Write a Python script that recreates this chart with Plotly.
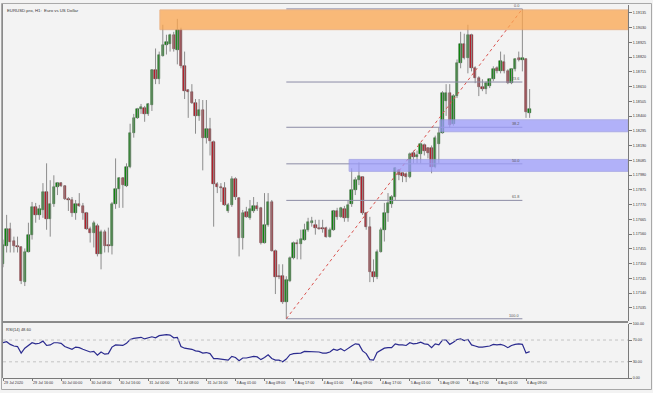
import plotly.graph_objects as go

W, H = 653, 393

# ---------------- data (EURUSD.pro H1) ----------------
opens = [1.17345,1.17479,1.17599,1.17514,1.17479,1.17465,1.17218,1.17436,1.17556,1.17754,
         1.17697,1.17732,1.17859,1.17669,1.17775,1.17895,1.17923,1.17902,1.17810,1.17803,
         1.17711,1.17775,1.17761,1.17711,1.17599,1.17570,1.17620,1.17422,1.17577,1.17486,
         1.17479,1.17775,1.17881,1.17958,1.17902,1.18036,1.18282,1.18388,1.18452,1.18459,
         1.18416,1.18480,1.18727,1.18663,1.18832,1.18910,1.18917,1.18980,1.18875,1.19016,
         1.18755,1.18586,1.18571,1.18494,1.18402,1.18445,1.18247,1.18311,1.18219,1.17916,
         1.17895,1.17888,1.17725,1.17768,1.17951,1.17817,1.17535,1.17718,1.17676,1.17725,
         1.17761,1.17747,1.17500,1.17627,1.17789,1.17443,1.17260,1.17260,1.17077,1.17225,
         1.17387,1.17500,1.17493,1.17521,1.17591,1.17641,1.17627,1.17606,1.17606,1.17606,
         1.17542,1.17591,1.17725,1.17683,1.17740,1.17676,1.17775,1.17873,1.17944,1.17965,
         1.17711,1.17613,1.17288,1.17253,1.17436,1.17591,1.17711,1.17775,1.17824,1.18014,
         1.17993,1.17986,1.17965,1.18141,1.18106,1.18134,1.18198,1.18177,1.18177,1.18036,
         1.18205,1.18282,1.18508,1.18564,1.18346,1.18543,1.18776,1.18917,1.18811,1.18980,
         1.18741,1.18670,1.18607,1.18593,1.18614,1.18663,1.18741,1.18719,1.18783,1.18719,
         1.18635,1.18734,1.18811,1.18797,1.18804,1.18423]
highs = [1.17521,1.17697,1.17641,1.17542,1.17542,1.17472,1.17458,1.17641,1.17789,1.17782,
         1.17768,1.17923,1.18064,1.17944,1.17979,1.17930,1.17930,1.17909,1.17824,1.17824,
         1.17803,1.17852,1.17782,1.17718,1.17613,1.17655,1.17634,1.17591,1.17591,1.17606,
         1.17789,1.18099,1.17965,1.17965,1.18064,1.18346,1.18416,1.18459,1.18487,1.18473,
         1.18494,1.18734,1.18882,1.18860,1.19051,1.18980,1.18987,1.19001,1.19093,1.19030,
         1.18860,1.18593,1.18628,1.18522,1.18522,1.18515,1.18515,1.18388,1.18226,1.17930,
         1.17923,1.17930,1.17782,1.17972,1.17965,1.17824,1.17732,1.17754,1.17803,1.17824,
         1.17789,1.17754,1.17852,1.17852,1.17803,1.17450,1.17345,1.17345,1.17260,1.17401,
         1.17507,1.17521,1.17591,1.17634,1.17676,1.17683,1.17662,1.17662,1.17662,1.17613,
         1.17606,1.17732,1.17747,1.17754,1.17761,1.17803,1.18029,1.17965,1.18071,1.17972,
         1.17718,1.17683,1.17380,1.17450,1.17606,1.17782,1.17852,1.17838,1.18036,1.18014,
         1.18000,1.18000,1.18141,1.18155,1.18155,1.18212,1.18205,1.18177,1.18191,1.18261,
         1.18318,1.18578,1.18628,1.18628,1.18557,1.18804,1.19001,1.18987,1.19051,1.18987,
         1.18755,1.18684,1.18663,1.18649,1.18670,1.18755,1.18755,1.18860,1.18839,1.18734,
         1.18741,1.18811,1.18860,1.19164,1.18811,1.18593]
lows = [1.17324,1.17429,1.17429,1.17429,1.17429,1.17204,1.17190,1.17429,1.17521,1.17641,
        1.17662,1.17676,1.17591,1.17542,1.17754,1.17838,1.17895,1.17803,1.17725,1.17683,
        1.17662,1.17754,1.17662,1.17591,1.17500,1.17465,1.17401,1.17309,1.17429,1.17429,
        1.17415,1.17740,1.17747,1.17747,1.17895,1.18029,1.18247,1.18381,1.18416,1.18360,
        1.18402,1.18437,1.18628,1.18628,1.18825,1.18839,1.18860,1.18860,1.18769,1.18741,
        1.18522,1.18388,1.18487,1.18275,1.18367,1.18014,1.18205,1.18120,1.17613,1.17852,
        1.17789,1.17761,1.17711,1.17754,1.17803,1.17401,1.17450,1.17676,1.17662,1.17711,
        1.17725,1.17486,1.17493,1.17613,1.17436,1.17133,1.17239,1.17063,1.16957,1.17218,
        1.17380,1.17380,1.17380,1.17514,1.17577,1.17613,1.17556,1.17591,1.17570,1.17535,
        1.17535,1.17584,1.17662,1.17676,1.17648,1.17648,1.17754,1.17838,1.17909,1.17697,
        1.17591,1.17218,1.17218,1.17239,1.17429,1.17507,1.17648,1.17747,1.17803,1.17944,
        1.17930,1.17930,1.17958,1.18064,1.18064,1.18064,1.18120,1.18099,1.17993,1.18029,
        1.18064,1.18275,1.18402,1.18318,1.18332,1.18529,1.18741,1.18804,1.18705,1.18719,
        1.18635,1.18543,1.18578,1.18557,1.18600,1.18649,1.18705,1.18705,1.18705,1.18628,
        1.18628,1.18719,1.18790,1.18719,1.18388,1.18388]
closes = [1.17486,1.17599,1.17507,1.17472,1.17465,1.17225,1.17436,1.17556,1.17754,1.17697,
          1.17740,1.17859,1.17669,1.17775,1.17895,1.17923,1.17902,1.17810,1.17803,1.17711,
          1.17775,1.17761,1.17711,1.17599,1.17570,1.17641,1.17422,1.17577,1.17472,1.17479,
          1.17775,1.17881,1.17958,1.17909,1.18036,1.18282,1.18388,1.18452,1.18466,1.18416,
          1.18487,1.18727,1.18663,1.18839,1.18910,1.18931,1.18980,1.18882,1.19016,1.18755,
          1.18578,1.18571,1.18494,1.18402,1.18445,1.18247,1.18311,1.18226,1.17916,1.17895,
          1.17888,1.17768,1.17768,1.17951,1.17824,1.17535,1.17711,1.17683,1.17740,1.17761,
          1.17740,1.17500,1.17627,1.17789,1.17443,1.17253,1.17253,1.17077,1.17232,1.17387,
          1.17500,1.17493,1.17528,1.17591,1.17648,1.17655,1.17606,1.17599,1.17599,1.17542,
          1.17591,1.17725,1.17683,1.17747,1.17676,1.17768,1.17873,1.17944,1.17972,1.17711,
          1.17613,1.17288,1.17253,1.17436,1.17591,1.17711,1.17782,1.17824,1.18029,1.17979,
          1.17972,1.17965,1.18134,1.18106,1.18127,1.18205,1.18155,1.18141,1.18036,1.18247,
          1.18282,1.18564,1.18564,1.18339,1.18543,1.18776,1.18917,1.18811,1.18980,1.18741,
          1.18670,1.18607,1.18593,1.18635,1.18663,1.18734,1.18719,1.18790,1.18719,1.18635,
          1.18734,1.18804,1.18797,1.18811,1.18430,1.18452]
rsi = [65,67,62,59,58,46,55,60,65,63,64,68,60,61,65,65,64,58,56,53,
       57,56,53,50,48,49,42,48,44,45,57,61,61,60,64,71,73,74,75,72,
       74,76,74,78,79,80,79,74,75,58,55,54,53,50,49,46,47,45,36,36,
       35,33,33,40,38,32,37,37,38,40,39,34,38,43,36,33,33,30,35,43,
       45,45,46,49,49,49,48,48,46,46,48,53,51,54,50,55,59,63,62,50,
       45,34,33,47,51,55,56,56,63,61,61,60,65,63,64,66,63,62,56,63,
       61,70,70,62,66,71,72,69,71,61,59,57,57,58,59,62,61,62,60,56,
       60,62,63,62,46,48.6]

tick_bars = [0, 8, 16, 24, 32, 40, 48, 56, 64, 72, 80, 88, 96, 104, 112, 120, 128, 136, 144]
tick_text = ["29 Jul 2020", "29 Jul 16:00", "30 Jul 00:00", "30 Jul 08:00", "30 Jul 16:00",
             "31 Jul 00:00", "31 Jul 08:00", "31 Jul 16:00", "3 Aug 01:00", "3 Aug 09:00",
             "3 Aug 17:00", "4 Aug 01:00", "4 Aug 09:00", "4 Aug 17:00", "5 Aug 01:00",
             "5 Aug 09:00", "5 Aug 17:00", "6 Aug 01:00", "6 Aug 09:00"]
price_ticks = [1.19135, 1.19030, 1.18925, 1.18820, 1.18715, 1.18610, 1.18505, 1.18400,
               1.18295, 1.18190, 1.18085, 1.17980, 1.17875, 1.17770, 1.17665, 1.17560,
               1.17455, 1.17350, 1.17245, 1.17140, 1.17035]
rsi_ticks = [0, 30, 70, 100]
rsi_tick_text = ["0.00", "30.00", "70.00", "100.00"]

fib_ratios = [0.0, 23.6, 38.2, 50.0, 61.8, 100.0]
fib_low_bar, fib_high_bar = 78, 143

zone_start = [43.2, 120.3, 95.3]
zone_top = [1.19157, 1.18374, 1.18092]
zone_bottom = [1.19016, 1.18289, 1.18007]
zone_fill = ["rgb(252,166,79)", "rgb(156,156,252)", "rgb(156,156,252)"]
zone_edge = ["rgb(232,160,100)", "rgb(150,150,225)", "rgb(150,150,225)"]

# ---------------- layout geometry ----------------
def px_x(p):
    return p / W

def px_y(p):
    return 1 - p / H

X_RANGE = [0, 172.08]
MAIN_RANGE = [1.16943, 1.19192]
FONT = "Liberation Sans"
bars = list(range(len(opens)))

UP_FILL, UP_EDGE = "#0c8c0c", "#1f4a1f"
DN_FILL, DN_EDGE = "#c0202c", "#4a1f22"

fig = go.Figure()

# wicks (high-low segments)
wx, wy = [], []
for i, (h, l) in enumerate(zip(highs, lows)):
    wx += [i, i, None]
    wy += [l, h, None]
fig.add_trace(go.Scatter(x=wx, y=wy, mode="lines", line=dict(color="#8c8c8c", width=1),
                         xaxis="x", yaxis="y", showlegend=False, hoverinfo="skip"))

# bodies
body_len = [c - o for o, c in zip(opens, closes)]
fig.add_trace(go.Bar(
    x=bars, y=body_len, base=opens, width=0.66,
    marker=dict(color=[UP_FILL if d > 0 else DN_FILL for d in body_len],
                line=dict(color=[UP_EDGE if d > 0 else DN_EDGE for d in body_len], width=0.5)),
    xaxis="x", yaxis="y", showlegend=False, hoverinfo="skip",
))

# fibonacci retracement
hi = highs[fib_high_bar]
lo = lows[fib_low_bar]
for r in fib_ratios:
    lvl = hi - r / 100 * (hi - lo)
    fig.add_trace(go.Scatter(x=[fib_low_bar, fib_high_bar], y=[lvl, lvl], mode="lines",
                             line=dict(color="#8c8ca6", width=1), xaxis="x", yaxis="y",
                             showlegend=False, hoverinfo="skip"))
    fig.add_annotation(x=fib_high_bar - 0.3, y=lvl, xref="x", yref="y", text=f"{r:.1f}",
                       showarrow=False, xanchor="right", yanchor="bottom",
                       font=dict(size=3.8, color="#555555", family=FONT), yshift=-1)
fig.add_trace(go.Scatter(x=[fib_low_bar, fib_high_bar], y=[lo, hi], mode="lines",
                         line=dict(color="#d9534f", width=1, dash="dot"), xaxis="x", yaxis="y",
                         showlegend=False, hoverinfo="skip"))

# RSI
fig.add_trace(go.Scatter(x=bars, y=rsi, mode="lines", line=dict(color="#2b2b8f", width=1.2),
                         xaxis="x", yaxis="y2", showlegend=False, hoverinfo="skip"))

shapes = []
for s, t, b, f, e in zip(zone_start, zone_top, zone_bottom, zone_fill, zone_edge):
    shapes.append(dict(type="rect", xref="x", yref="y", x0=s, x1=X_RANGE[1], y0=b, y1=t,
                       fillcolor=f, opacity=0.75, line=dict(color=e, width=1), layer="above"))
for lv in (30, 70):
    shapes.append(dict(type="line", xref="x", yref="y2", x0=X_RANGE[0], x1=X_RANGE[1], y0=lv, y1=lv,
                       line=dict(color="#c4c4c4", width=1, dash="dot")))
shapes.append(dict(type="line", xref="paper", yref="paper", x0=px_x(3), x1=px_x(628),
                   y0=px_y(323.2), y1=px_y(323.2), line=dict(color="#8a8a8a", width=2)))
shapes.append(dict(type="rect", xref="paper", yref="paper", x0=px_x(1.5), x1=px_x(651.5),
                   y0=px_y(391.5), y1=px_y(1.5), line=dict(color="#a8a8a8", width=1)))
shapes.append(dict(type="line", xref="paper", yref="paper", x0=px_x(2.5), x1=px_x(2.5),
                   y0=px_y(380), y1=px_y(2), line=dict(color="#8a8a8a", width=1)))

fig.add_annotation(x=px_x(5), y=px_y(4), xref="paper", yref="paper",
                   text="EURUSD.pro, H1:  Euro vs US Dollar", showarrow=False,
                   xanchor="left", yanchor="top", font=dict(size=4.3, color="#333333", family=FONT))
fig.add_annotation(x=px_x(4), y=px_y(326), xref="paper", yref="paper",
                   text="RSI(14) 48.60", showarrow=False,
                   xanchor="left", yanchor="top", font=dict(size=4.0, color="#333333", family=FONT))

fig.update_layout(
    width=W, height=H, margin=dict(l=0, r=0, t=0, b=0),
    paper_bgcolor="#f3f3f3", plot_bgcolor="#f3f3f3",
    shapes=shapes, barmode="overlay", bargap=0,
    xaxis=dict(domain=[px_x(3), px_x(628)], range=X_RANGE, anchor="y2",
               tickvals=tick_bars, ticktext=tick_text, ticks="outside", ticklen=2,
               tickcolor="#777777", ticklabelposition="outside right", tickangle=0,
               tickfont=dict(size=3.7, color="#333333", family=FONT),
               showgrid=False, zeroline=False, showline=True, linecolor="#7a7a7a",
               linewidth=1, fixedrange=True),
    yaxis=dict(domain=[px_y(322), px_y(3)], range=MAIN_RANGE, anchor="x", side="right",
               tickvals=price_ticks, ticktext=[f"{v:.5f}" for v in price_ticks],
               ticks="outside", ticklen=3, tickcolor="#777777",
               tickfont=dict(size=3.7, color="#333333", family=FONT),
               showgrid=False, zeroline=False, showline=True, linecolor="#7a7a7a", linewidth=1),
    yaxis2=dict(domain=[px_y(380), px_y(325)], range=[0, 100], anchor="x", side="right",
                tickvals=rsi_ticks, ticktext=rsi_tick_text, ticks="outside", ticklen=3,
                tickcolor="#777777", tickfont=dict(size=3.7, color="#333333", family=FONT),
                showgrid=False, zeroline=False, showline=True, linecolor="#7a7a7a", linewidth=1),
)

fig.write_html("out.html", config={"displayModeBar": False},
               post_script="document.body.style.margin='0px';")
